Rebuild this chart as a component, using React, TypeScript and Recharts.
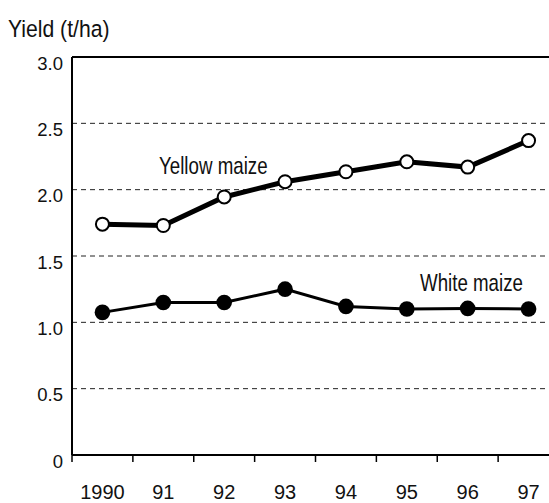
import React from "react";
import { LineChart, Line, XAxis, YAxis, CartesianGrid, ReferenceLine, ReferenceDot } from "recharts";

const years = ["1990", "91", "92", "93", "94", "95", "96", "97"];
const yellowMaize = [1.74, 1.73, 1.945, 2.06, 2.135, 2.21, 2.17, 2.37];
const whiteMaize = [1.075, 1.15, 1.15, 1.25, 1.12, 1.1, 1.105, 1.1];
const yTicks = [0, 0.5, 1.0, 1.5, 2.0, 2.5, 3.0];
const yTickLabels = ["0", "0.5", "1.0", "1.5", "2.0", "2.5", "3.0"];

const data = years.map((y, i) => ({ idx: i, year: y, yellow: yellowMaize[i], white: whiteMaize[i] }));

const FONT = "'Liberation Sans', Arial, sans-serif";
const CHART_W = 559;
const CHART_H = 503;
const MARGIN = { top: 57, right: 0, left: 0, bottom: 0 };
const X_AXIS_H = 48;
const Y_AXIS_W = 72;
const PLOT_W = CHART_W - MARGIN.left - MARGIN.right - Y_AXIS_W;
const HALF_BAND = PLOT_W / years.length / 2;

const XTick = (props: any) => {
  const { x, y, payload } = props;
  return (
    <g>
      <line x1={x - HALF_BAND} x2={x - HALF_BAND} y1={y} y2={y + 7} stroke="#000" strokeWidth={1.5} />
      <text x={x} y={y + 44} textAnchor="middle" fontFamily={FONT} fontSize={20} fill="#111">
        {years[payload.value]}
      </text>
    </g>
  );
};

const YTick = (props: any) => {
  const { x, y, payload } = props;
  const i = yTicks.indexOf(payload.value);
  return (
    <text x={x} y={y + 12.5} textAnchor="end" fontFamily={FONT} fontSize={18.5} fill="#111">
      {yTickLabels[i]}
    </text>
  );
};

const seriesLabel = (text: string) => (props: any) => {
  const vb = props.viewBox || {};
  const cx = (vb.x ?? 0) + (vb.width ?? 0) / 2;
  const cy = (vb.y ?? 0) + (vb.height ?? 0) / 2;
  return (
    <text
      transform={`translate(${cx},${cy}) scale(0.78,1)`}
      x={0}
      y={0}
      textAnchor="middle"
      fontFamily={FONT}
      fontSize={24}
      fill="#111"
    >
      {text}
    </text>
  );
};

export default function App() {
  return (
    <div style={{ position: "absolute", left: 0, top: 0, width: 549, height: 503, overflow: "hidden", background: "#fff" }}>
      <svg width={549} height={50} style={{ position: "absolute", left: 0, top: 0 }}>
        <text transform="translate(8,36.7) scale(0.9,1)" x={0} y={0} fontFamily={FONT} fontSize={23.5} fill="#111">
          Yield (t/ha)
        </text>
      </svg>
      <div style={{ position: "absolute", left: 0, top: 0 }}>
        <LineChart width={CHART_W} height={CHART_H} data={data} margin={MARGIN}>
          <CartesianGrid horizontal={true} vertical={false} stroke="#222" strokeDasharray="5 4" strokeWidth={1} />
          <XAxis
            dataKey="idx"
            type="number"
            domain={[-0.5, 7.5]}
            ticks={[0, 1, 2, 3, 4, 5, 6, 7]}
            tickLine={false}
            tickSize={0}
            tickMargin={0}
            axisLine={{ stroke: "#000", strokeWidth: 2 }}
            tick={<XTick />}
            interval={0}
            height={X_AXIS_H}
          />
          <YAxis
            type="number"
            domain={[0, 3]}
            ticks={yTicks}
            tickLine={false}
            tickSize={0}
            tickMargin={9}
            axisLine={{ stroke: "#000", strokeWidth: 2 }}
            tick={<YTick />}
            width={Y_AXIS_W}
            interval={0}
          />
          <ReferenceLine y={3} stroke="#000" strokeWidth={2} />
          <Line
            dataKey="yellow"
            stroke="#000"
            strokeWidth={5}
            isAnimationActive={false}
            dot={{ r: 6.5, fill: "#fff", stroke: "#000", strokeWidth: 2 }}
            activeDot={false}
          />
          <Line
            dataKey="white"
            stroke="#000"
            strokeWidth={3}
            isAnimationActive={false}
            dot={{ r: 7.8, fill: "#000", stroke: "#000", strokeWidth: 0 }}
            activeDot={false}
          />
          <ReferenceDot x={1.821} y={2.118} r={0} stroke="none" fill="none" label={seriesLabel("Yellow maize")} />
          <ReferenceDot x={6.062} y={1.236} r={0} stroke="none" fill="none" label={seriesLabel("White maize")} />
        </LineChart>
      </div>
    </div>
  );
}
